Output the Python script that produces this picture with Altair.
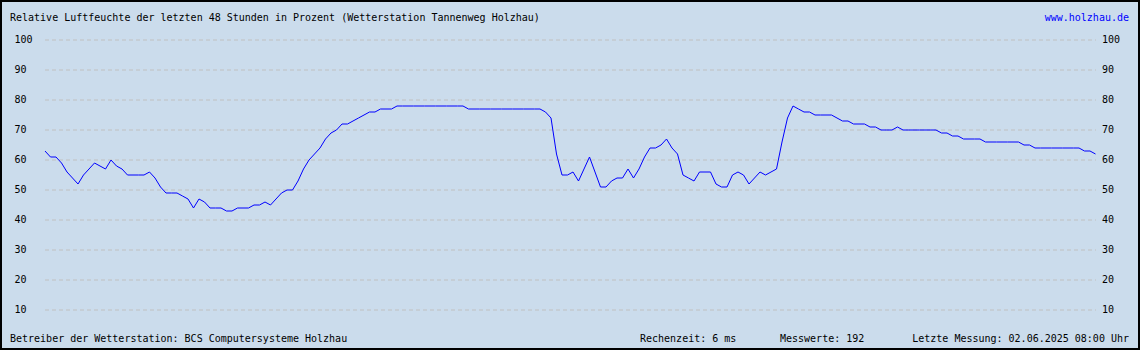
import altair as alt
import pandas as pd

humidity = [
    63, 61, 61, 59, 56, 54, 52, 55, 57, 59,
    58, 57, 60, 58, 57, 55, 55, 55, 55, 56,
    54, 51, 49, 49, 49, 48, 47, 44, 47, 46,
    44, 44, 44, 43, 43, 44, 44, 44, 45, 45,
    46, 45, 47, 49, 50, 50, 53, 57, 60, 62,
    64, 67, 69, 70, 72, 72, 73, 74, 75, 76,
    76, 77, 77, 77,
    78, 78, 78, 78, 78, 78, 78, 78, 78, 78, 78, 78, 78,
    77, 77, 77, 77, 77, 77, 77, 77, 77, 77, 77, 77, 77, 77,
    76, 74, 62, 55, 55, 56, 53, 57, 61, 56,
    51, 51, 53, 54, 54, 57, 54, 57, 61, 64,
    64, 65, 67, 64, 62, 55, 54, 53, 56, 56,
    56, 52, 51, 51, 55, 56, 55, 52, 54, 56,
    55, 56, 57, 66, 74, 78, 77, 76, 76,
    75, 75, 75, 75, 74, 73, 73, 72, 72, 72,
    71, 71, 70, 70, 70, 71,
    70, 70, 70, 70, 70, 70, 70,
    69, 69, 68, 68, 67, 67, 67, 67,
    66, 66, 66, 66, 66, 66, 66,
    65, 65,
    64, 64, 64, 64, 64, 64, 64, 64, 64,
    63, 63, 62,
]
assert len(humidity) == 192

ticks = [10, 20, 30, 40, 50, 60, 70, 80, 90, 100]
tick_labels = [str(t) for t in ticks]

title_text = "Relative Luftfeuchte der letzten 48 Stunden in Prozent (Wetterstation Tannenweg Holzhau)"
site_text = "www.holzhau.de"
footer_left = "Betreiber der Wetterstation: BCS Computersysteme Holzhau"
footer_calc = "Rechenzeit: 6 ms"
footer_count = "Messwerte: 192"
footer_last = "Letzte Messung: 02.06.2025 08:00 Uhr"

W, H = 1140, 350
BG = "#cbdcec"
FONT = "DejaVu Sans Mono"

df = pd.DataFrame({"i": list(range(len(humidity))), "v": humidity})
grid = pd.DataFrame({"v": ticks, "label": tick_labels})
one = pd.DataFrame({"k": [0]})

xs = alt.Scale(domain=[-45 / 5.5, (W - 45) / 5.5], nice=False, zero=False)
ys = alt.Scale(domain=[-10 / 3, 340 / 3], nice=False, zero=False)

gridlines = alt.Chart(grid).mark_rule(
    color="#c0c0c0", strokeDash=[4, 3], strokeWidth=1
).encode(
    y=alt.Y("v:Q", scale=ys, axis=None),
    x=alt.value(45),
    x2=alt.value(1096),
)

left_labels = alt.Chart(grid).mark_text(
    align="left", baseline="middle", font=FONT, fontSize=10, color="black"
).encode(
    y=alt.Y("v:Q", scale=ys, axis=None),
    x=alt.value(14.5),
    text="label:N",
)

right_labels = alt.Chart(grid).mark_text(
    align="left", baseline="middle", font=FONT, fontSize=10, color="black"
).encode(
    y=alt.Y("v:Q", scale=ys, axis=None),
    x=alt.value(1102),
    text="label:N",
)

line = alt.Chart(df).mark_line(color="#0000ff", strokeWidth=1).encode(
    x=alt.X("i:Q", scale=xs, axis=None),
    y=alt.Y("v:Q", scale=ys, axis=None),
)


def label(text, x, y, align="left", color="black"):
    return alt.Chart(one).mark_text(
        text=text, align=align, baseline="alphabetic", font=FONT,
        fontSize=10, color=color,
    ).encode(x=alt.value(x), y=alt.value(y))


texts = [
    label(title_text, 10, 21),
    label(site_text, 1129, 21, align="right", color="#0000ff"),
    label(footer_left, 10, 342),
    label(footer_calc, 640, 342),
    label(footer_count, 780, 342),
    label(footer_last, 1129, 342, align="right"),
]

border = alt.Chart(one).mark_rect(
    fillOpacity=0, stroke="#000000", strokeWidth=2
).encode(
    x=alt.value(1), x2=alt.value(W - 1), y=alt.value(1), y2=alt.value(H - 1)
)

chart = alt.layer(
    gridlines, left_labels, right_labels, line, *texts, border
).properties(
    width=W, height=H, autosize="none", padding=0, background=BG
).configure_view(strokeWidth=0, fill=BG)

chart.save("out.html", embed_options={"renderer": "svg", "actions": False})
